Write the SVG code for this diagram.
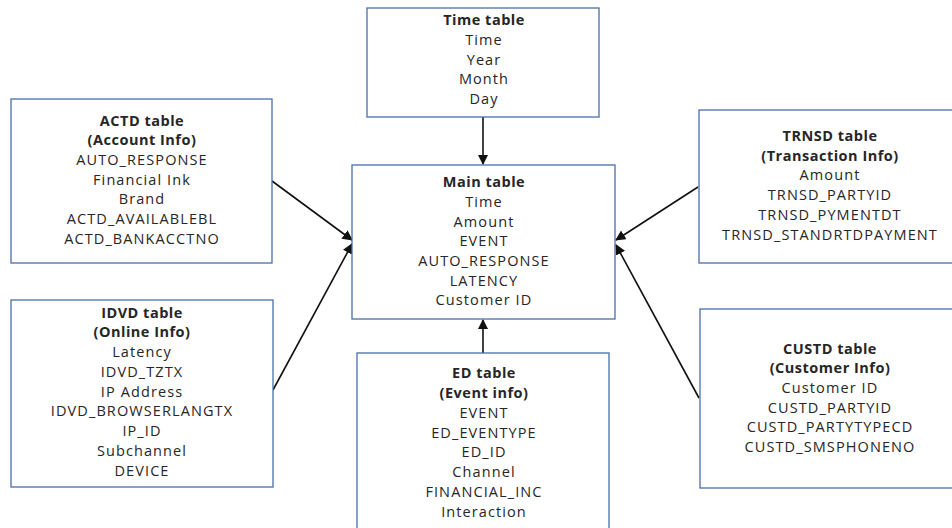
<svg xmlns="http://www.w3.org/2000/svg" width="952" height="528" viewBox="0 0 952 528">
<style>
.box{fill:#ffffff;stroke:#4a6fa8;stroke-width:1.3}
text{font-family:"Open Sans","Liberation Sans",sans-serif;font-size:14.5px;letter-spacing:1.1px;fill:#262626;text-anchor:middle}
.b{font-weight:bold;letter-spacing:0.5px}
.c{stroke:#111;stroke-width:1.6;fill:none;marker-end:url(#ah)}
</style>
<defs>
<marker id="ah" viewBox="0 0 10 10" refX="9" refY="5" markerWidth="6.5" markerHeight="6.5" orient="auto" markerUnits="strokeWidth">
<path d="M0,0 L10,5 L0,10 z" fill="#111"/>
</marker>
</defs>
<rect width="952" height="528" fill="#ffffff"/>
<g id="connectors">
<line class="c" x1="483" y1="117" x2="483" y2="164"/>
<line class="c" x1="483" y1="353" x2="483" y2="320"/>
<line class="c" x1="272" y1="181" x2="352" y2="240"/>
<line class="c" x1="273" y1="390" x2="352" y2="244"/>
<line class="c" x1="698" y1="187" x2="616" y2="240"/>
<line class="c" x1="699" y1="398" x2="616" y2="245"/>
</g>
<g id="time">
<rect class="box" x="367" y="8" width="232" height="109"/>
<text class="b" x="484" y="25">Time table</text>
<text x="484" y="45">Time</text>
<text x="484" y="65">Year</text>
<text x="484" y="84">Month</text>
<text x="484" y="104">Day</text>
</g>
<g id="main">
<rect class="box" x="352" y="165" width="263" height="154"/>
<text class="b" x="484" y="187">Main table</text>
<text x="484" y="207">Time</text>
<text x="484" y="227">Amount</text>
<text x="484" y="246">EVENT</text>
<text x="484" y="266">AUTO_RESPONSE</text>
<text x="484" y="286">LATENCY</text>
<text x="484" y="305">Customer ID</text>
</g>
<g id="actd">
<rect class="box" x="11" y="99" width="261" height="164"/>
<text class="b" x="142" y="126">ACTD table</text>
<text class="b" x="142" y="145">(Account Info)</text>
<text x="142" y="165">AUTO_RESPONSE</text>
<text x="142" y="185">Financial Ink</text>
<text x="142" y="204">Brand</text>
<text x="142" y="224">ACTD_AVAILABLEBL</text>
<text x="142" y="244">ACTD_BANKACCTNO</text>
</g>
<g id="trnsd">
<rect class="box" x="699" y="110" width="262" height="153"/>
<text class="b" x="830" y="141">TRNSD table</text>
<text class="b" x="830" y="161">(Transaction Info)</text>
<text x="830" y="180">Amount</text>
<text x="830" y="200">TRNSD_PARTYID</text>
<text x="830" y="220">TRNSD_PYMENTDT</text>
<text x="830" y="240">TRNSD_STANDRTDPAYMENT</text>
</g>
<g id="idvd">
<rect class="box" x="11" y="300" width="262" height="187"/>
<text class="b" x="142" y="318">IDVD table</text>
<text class="b" x="142" y="337">(Online Info)</text>
<text x="142" y="357">Latency</text>
<text x="142" y="377">IDVD_TZTX</text>
<text x="142" y="397">IP Address</text>
<text x="142" y="416">IDVD_BROWSERLANGTX</text>
<text x="142" y="436">IP_ID</text>
<text x="142" y="456">Subchannel</text>
<text x="142" y="476">DEVICE</text>
</g>
<g id="ed">
<rect class="box" x="357" y="353" width="252" height="180"/>
<text class="b" x="484" y="378">ED table</text>
<text class="b" x="484" y="398">(Event info)</text>
<text x="484" y="418">EVENT</text>
<text x="484" y="438">ED_EVENTYPE</text>
<text x="484" y="457">ED_ID</text>
<text x="484" y="477">Channel</text>
<text x="484" y="497">FINANCIAL_INC</text>
<text x="484" y="517">Interaction</text>
</g>
<g id="custd">
<rect class="box" x="700" y="309" width="261" height="179"/>
<text class="b" x="830" y="354">CUSTD table</text>
<text class="b" x="830" y="373">(Customer Info)</text>
<text x="830" y="393">Customer ID</text>
<text x="830" y="413">CUSTD_PARTYID</text>
<text x="830" y="432">CUSTD_PARTYTYPECD</text>
<text x="830" y="452">CUSTD_SMSPHONENO</text>
</g>
</svg>
